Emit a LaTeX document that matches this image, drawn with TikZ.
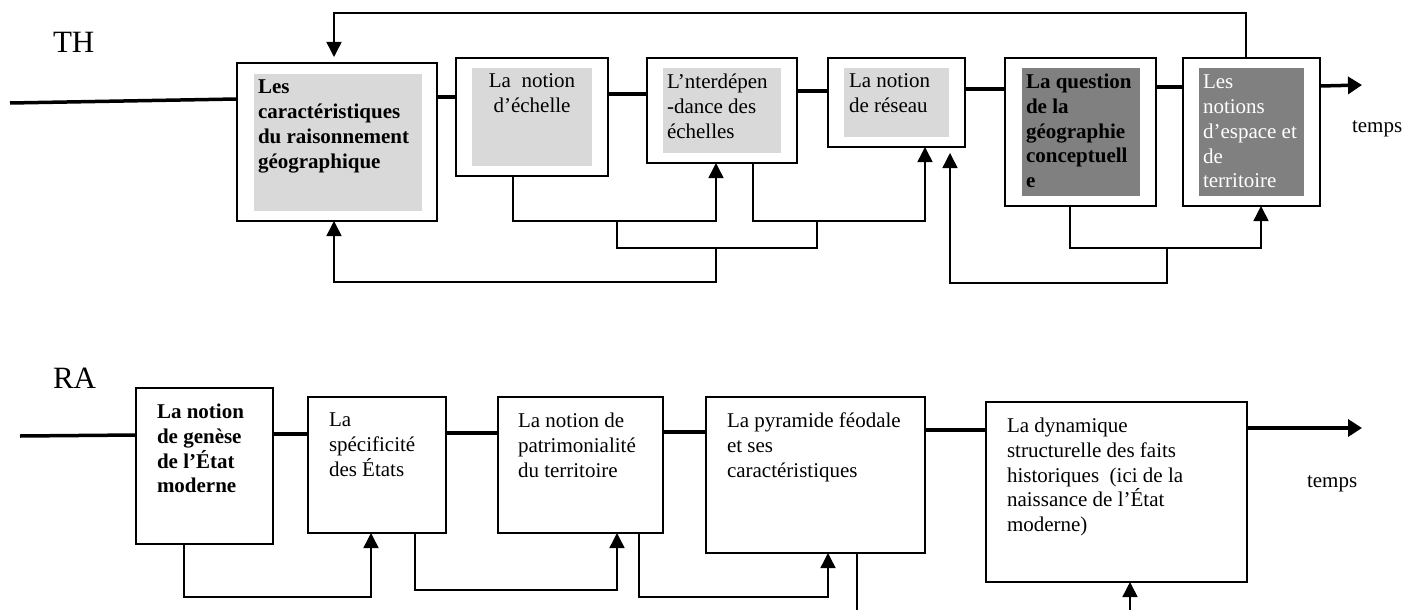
\documentclass[tikz,border=0pt]{standalone}
\usepackage{fontspec}
\setmainfont{Liberation Serif}
\usetikzlibrary{arrows.meta}
\definecolor{lgray}{RGB}{217,217,217}
\definecolor{dgray}{RGB}{128,128,128}
\begin{document}
\begin{tikzpicture}[x=1pt,y=-1pt,
  box/.style={draw,line width=2pt,inner sep=0pt,outer sep=0pt,anchor=north west},
  txt/.style={inner sep=0pt,outer sep=0pt,anchor=north west,align=left,font=\fontsize{21}{24.8}\selectfont},
  big/.style={inner sep=0pt,outer sep=0pt,anchor=north west,font=\fontsize{31}{36}\selectfont},
  mainline/.style={line width=3.5pt},
  conn/.style={line width=1.5pt},
  tipped/.style={-{Triangle[length=15pt,width=15pt]}},
  maintip/.style={-{Triangle[length=14pt,width=17pt]}}]
\useasboundingbox (0,0) rectangle (1415,610);

% ---------------- TH row ----------------
\node[big] (th) at (53,32) {TH};

\node[box,minimum width=200pt,minimum height=158pt] (b1) at (237,63) {};
\node[box,minimum width=152pt,minimum height=118pt] (b2) at (456,58) {};
\node[box,minimum width=150pt,minimum height=105pt] (b3) at (647,58) {};
\node[box,minimum width=137pt,minimum height=89pt]  (b4) at (828,58) {};
\node[box,minimum width=151pt,minimum height=148pt] (b5) at (1005,58) {};
\node[box,minimum width=137pt,minimum height=148pt] (b6) at (1183,58) {};

\fill[lgray] (254,74) rectangle (422,211);
\fill[lgray] (472,68) rectangle (592,166);
\fill[lgray] (663,68) rectangle (781,153);
\fill[lgray] (844,68) rectangle (949,137);
\fill[dgray] (1022,68) rectangle (1140,196);
\fill[dgray] (1199,68) rectangle (1304,196);

\node[txt,font=\fontsize{21}{24.8}\selectfont\bfseries] (t1) at (258,80) {Les\\caractéristiques\\du raisonnement\\géographique};
\node[txt,align=center,anchor=north] (t2) at (532,74) {La~~notion\\d’échelle};
\node[txt] (t3) at (667,74) {L’nterdépen\\-dance des\\échelles};
\node[txt] (t4) at (849,74) {La notion\\de réseau};
\node[txt,font=\fontsize{21}{24.8}\selectfont\bfseries] (t5) at (1026,74) {La question\\de la\\géographie\\conceptuell\\e};
\node[txt,text=white] (t6) at (1203,75) {Les\\notions\\d’espace et\\de\\territoire};

\node[txt,anchor=base west] (tempsA) at (1352,132) {temps};

% main time line
\coordinate (startA) at (10,103);
\coordinate (endA) at (1362,85);
\draw[mainline] (startA) -- (b1.west |- 0,99);
\draw[mainline] (b1.east |- 0,97) -- (b2.west |- 0,97);
\draw[mainline] (b2.east |- 0,94) -- (b3.west |- 0,94);
\draw[mainline] (b3.east |- 0,91) -- (b4.west |- 0,91);
\draw[mainline] (b4.east |- 0,89) -- (b5.west |- 0,89);
\draw[mainline] (b5.east |- 0,87) -- (b6.west |- 0,87);
\draw[mainline,maintip] (b6.east |- 0,86) -- (endA);

% feedback loops
\coordinate (fbtip) at (334,57);
\draw[conn,tipped] (1246,0 |- b6.north) -- (1246,13) -| (fbtip);
\draw[conn,tipped] (513,0 |- b2.south) -- (513,221) -| (716,0 |- b3.south);
\draw[conn,tipped] (753,0 |- b3.south) -- (753,221) -| (925,0 |- b4.south);
\draw[conn] (617,221) -- (617,248) -| (817,221);
\draw[conn,tipped] (716,248) -- (716,282) -| (334,0 |- b1.south);
\draw[conn,tipped] (1070,0 |- b5.south) -- (1070,248) -| (1261,0 |- b6.south);
\coordinate (rtip) at (950,153);
\draw[conn,tipped] (1167,248) -- (1167,283) -| (rtip);

% ---------------- RA row ----------------
\node[big] (ra) at (53,368) {RA};

\node[box,minimum width=137pt,minimum height=156pt] (bA) at (136,388) {};
\node[box,minimum width=138pt,minimum height=136pt] (bB) at (308,397) {};
\node[box,minimum width=165pt,minimum height=136pt] (bC) at (498,397) {};
\node[box,minimum width=219pt,minimum height=156pt] (bD) at (706,397) {};
\node[box,minimum width=261pt,minimum height=180pt] (bE) at (986,402) {};

\node[txt,font=\fontsize{21}{24.8}\selectfont\bfseries] (tA) at (157,404) {La notion\\de genèse\\de l’État\\moderne};
\node[txt] (tB) at (329,413) {La\\spécificité\\des États};
\node[txt] (tC) at (518,413) {La notion de\\patrimonialité\\du territoire};
\node[txt] (tD) at (727,413) {La pyramide féodale\\et ses\\caractéristiques};
\node[txt] (tE) at (1007,418) {La dynamique\\structurelle des faits\\historiques~~(ici de la\\naissance de l’État\\moderne)};

\node[txt,anchor=base west] (tempsB) at (1307,487) {temps};

\coordinate (startB) at (20,436);
\coordinate (endB) at (1362,428);
\draw[mainline] (startB) -- (bA.west |- 0,435);
\draw[mainline] (bA.east |- 0,434) -- (bB.west |- 0,434);
\draw[mainline] (bB.east |- 0,433) -- (bC.west |- 0,433);
\draw[mainline] (bC.east |- 0,432) -- (bD.west |- 0,432);
\draw[mainline] (bD.east |- 0,430) -- (bE.west |- 0,430);
\draw[mainline,maintip] (bE.east |- 0,428) -- (endB);

\draw[conn,tipped] (184,0 |- bA.south) -- (184,597) -| (371,0 |- bB.south);
\draw[conn,tipped] (415,0 |- bB.south) -- (415,590) -| (617,0 |- bC.south);
\draw[conn,tipped] (639,0 |- bC.south) -- (639,597) -| (828,0 |- bD.south);
\coordinate (dend) at (857,610);
\draw[conn] (857,0 |- bD.south) -- (dend);
\coordinate (estart) at (1130,610);
\draw[conn,tipped] (estart) -- (1130,0 |- bE.south);
\end{tikzpicture}
\end{document}
